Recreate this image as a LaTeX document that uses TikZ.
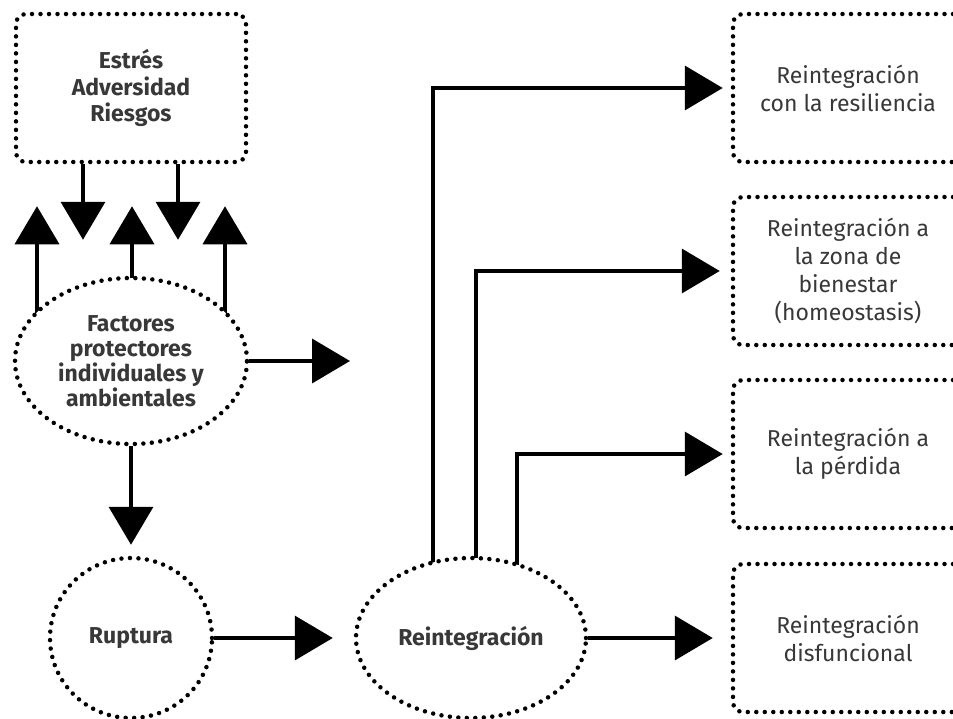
\documentclass[tikz,border=0pt]{standalone}
\usepackage{fontspec}
\setmainfont{Fira Sans}
\usetikzlibrary{shapes.geometric,arrows.meta,backgrounds}

\definecolor{textgray}{HTML}{383838}

\tikzset{
    dots/.style={line width=4.5pt, dash pattern=on 0pt off 8.5pt, line cap=round},
    boxnode/.style={draw, dots, rounded corners=10pt, fill=white, minimum width=230pt,
        minimum height=148pt, align=center, text=textgray},
    ellnode/.style={draw, dots, ellipse, fill=white, align=center, text=textgray,
        font=\bfseries\fontsize{23}{25}\selectfont},
    outtext/.style={font=\fontsize{23}{28}\selectfont},
    arr/.style={line width=3.8pt, -{Triangle[length=38pt,width=44pt]}}
}

\begin{document}
\begin{tikzpicture}[x=1pt, y=-1pt]
    \useasboundingbox (0,0) rectangle (953,718);

    % Left column
    \node[boxnode, font=\bfseries\fontsize{23}{26.5}\selectfont] (stress) at (131,88) {Estrés\\Adversidad\\Riesgos};
    \node[ellnode, minimum width=232pt, minimum height=166pt] (factors) at (131,361) {Factores\\protectores\\individuales y\\ambientales};
    \node[ellnode, minimum width=162pt, minimum height=160pt] (rupture) at (131,638) {Ruptura};
    \node[ellnode, minimum width=230pt, minimum height=160pt] (reint) at (471,638) {Reintegración};
    \coordinate (fout) at (350,361);

    % Outcomes
    \node[boxnode, outtext] (resil) at (848,88) {Reintegración\\con la resiliencia};
    \node[boxnode, outtext] (homeo) at (848,271) {Reintegración a\\la zona de\\bienestar\\(homeostasis)};
    \node[boxnode, outtext] (loss) at (848,454) {Reintegración a\\la pérdida};
    \node[boxnode, outtext] (dysf) at (848,638) {Reintegración\\disfuncional};

    \begin{scope}[on background layer]
        \fill[white] (0,0) rectangle (953,718);

        % Stress and protection
        \foreach \dx in {-48,47}
            \draw[arr, shorten >=36pt] ([xshift=\dx pt]stress.south) -- ([xshift=\dx pt]stress.south |- factors.north);
        \foreach \dx in {-94,1,94}
            \draw[arr, shorten >=42pt] ([xshift=\dx pt]factors.center) -- ([xshift=\dx pt]factors.center |- stress.south);
        \draw[arr] (factors.east) -- (fout);
        \draw[arr, shorten >=11pt] (factors.south) -- (rupture.north);
        \draw[arr, shorten >=21pt] (rupture.east) -- (reint.west);

        % Reintegration paths
        \draw[arr, shorten >=8pt] ([xshift=-38pt]reint.center) |- (resil.west);
        \draw[arr, shorten >=11pt] ([xshift=5pt]reint.center) |- (homeo.west);
        \draw[arr, shorten >=8pt] ([xshift=46pt]reint.center) |- (loss.west);
        \draw[arr, shorten >=18pt] (reint.east) -- (dysf.west);
    \end{scope}
\end{tikzpicture}
\end{document}
